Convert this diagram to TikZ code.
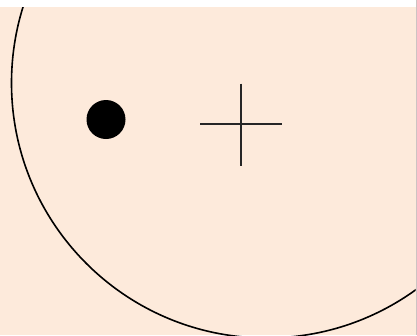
\documentclass[tikz,border=0pt]{standalone}
\definecolor{peach}{RGB}{253,234,219}
\definecolor{edgegray}{RGB}{205,195,195}
\tikzset{
  outline/.style={draw=black, line width=1.6pt},
  crossline/.style={draw=black!85, line width=1.9pt},
}
\begin{document}
\begin{tikzpicture}[x=1pt,y=-1pt]
\useasboundingbox (0,0) rectangle (417,335);
\fill[white] (0,0) rectangle (417,335);
\fill[peach] (0,7) rectangle (415.5,335);
\fill[edgegray] (415.5,0) rectangle (417,335);
\begin{scope}
\clip (0,7) rectangle (415.5,335);
\draw[outline] (266.5,83) circle (255);
\end{scope}
\fill[black] (106,119.5) circle (19.5);
\coordinate (ct) at (240.7,83.5);
\coordinate (cb) at (240.7,165.5);
\coordinate (cl) at (200,124.3);
\coordinate (cr) at (282,124.3);
\draw[crossline] (ct) -- (cb);
\draw[crossline] (cl) -- (cr);
\end{tikzpicture}
\end{document}
